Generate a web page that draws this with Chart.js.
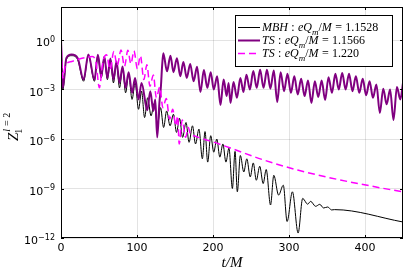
<!DOCTYPE html>
<html>
<head>
<meta charset="utf-8">
<script src="https://cdn.jsdelivr.net/npm/chart.js@4.4.0/dist/chart.umd.min.js"></script>
<style>
  html, body { margin: 0; padding: 0; background: #fff; }
  canvas { display: block; }
</style>
</head>
<body>
<canvas id="chart" width="411" height="274"></canvas>
<script>
// values: t/M and log10 of |Z|
const mbhT = [0, 2.5, 7, 14, 22, 29.7, 36, 44, 48.5, 53, 57, 61, 65, 69, 73, 77, 81, 85, 89, 93.5,
  97.5, 102, 106, 110, 114, 118.5, 122.5, 127, 131, 135, 139, 143.5, 148, 152, 156, 160, 164.5, 168.5,
  173, 177, 181.5, 186, 189.5, 193, 197, 201, 205, 209, 213, 217, 221, 225.5, 229, 232, 236, 240.5,
  244.5, 249, 253, 257, 261.5, 266, 270, 275.7, 280, 286.3, 292.5, 297.5, 304.5, 312, 318, 324.5,
  328.5, 335, 340.5, 345.5, 351, 356, 360, 450]
const mbhLogZ = [0, -3.0, -1.2, -0.95, -1.2, -2.5, -0.93, -2.5, -0.95, -2.3, -1.05, -2.4, -1.2, -2.6,
  -1.4, -2.9, -1.7, -3.2, -2.1, -3.6, -2.6, -4.2, -3.1, -4.7, -3.5, -4.6, -3.85, -5.1, -4.1, -5.3,
  -4.3, -5.2, -4.5, -5.6, -4.75, -5.9, -5.0, -6.2, -5.2, -6.3, -5.4, -7.2, -5.55, -7.4, -5.8, -6.8,
  -6.0, -7.1, -6.3, -7.4, -6.55, -9.0, -6.75, -9.2, -7.0, -8.0, -7.2, -8.3, -7.45, -8.5, -7.65, -8.7,
  -7.85, -10.0, -8.2, -9.4, -8.8, -11.0, -9.2, -11.7, -9.6, -9.95, -9.78, -10.08, -9.96, -10.18,
  -10.12, -10.3, -10.28, -11.03]

const ts1T = [0, 2.5, 7, 14, 22, 29.7, 36, 44, 48.5, 53, 57, 61, 65, 69, 73, 77, 81, 85, 89, 93.5,
  97.5, 102, 106, 113.5, 117.5, 121.5, 124, 126.6, 129.5, 131.5, 133, 134.6, 139.5, 144, 148, 152.5,
  157, 161, 165.5, 170, 174.5, 179, 183.5, 188, 192.5, 197, 201, 205.5, 209.8, 214, 218, 220.5, 223,
  227, 231.5, 236, 240, 244, 248.5, 253, 257.5, 262, 266.5, 271, 275.5, 280, 284.5, 289, 293.5, 298,
  302.5, 307, 311.5, 316, 320.5, 325, 329.5, 334, 338.5, 343, 347.5, 352, 356.5, 361, 365.5, 370,
  374.5, 379, 383.5, 388, 392.5, 397, 401.5, 406, 410.5, 415, 419.5, 424, 428.5, 433, 437.5, 442,
  446.5, 450]
const ts1LogZ = [0, -2.9, -1.1, -0.88, -1.1, -2.4, -0.88, -2.4, -0.9, -2.2, -1.0, -2.3, -1.12, -2.4,
  -1.3, -2.6, -1.6, -2.9, -1.95, -3.2, -2.3, -3.6, -2.6, -4.25, -3.1, -4.3, -3.6, -5.9, -3.8, -2.8,
  -1.6, -0.8, -1.9, -0.95, -1.95, -1.1, -2.2, -1.33, -2.3, -1.45, -2.5, -1.62, -3.15, -1.82, -2.9,
  -1.95, -3.0, -2.2, -3.94, -2.4, -3.4, -2.6, -3.82, -2.55, -3.5, -2.3, -3.15, -2.1, -3.0, -1.88,
  -2.9, -1.8, -2.9, -1.8, -2.95, -1.85, -3.76, -1.95, -3.1, -2.05, -3.2, -2.2, -3.3, -2.35, -3.4,
  -2.45, -3.82, -2.5, -3.45, -2.45, -3.64, -2.25, -3.2, -2.05, -3.0, -2.0, -3.0, -2.05, -3.1, -2.2,
  -3.2, -2.35, -3.35, -2.5, -3.5, -2.7, -4.42, -2.95, -3.9, -3.0, -4.85, -2.85, -3.6, -2.6]

const ts2T = [0, 2.2, 6, 14, 24, 33, 41, 46, 50.5, 55, 60, 64.5, 69.5, 74, 79, 83.5, 88, 92, 96,
  100.5, 104.5, 109, 113, 117, 121.5, 125.5, 130, 134, 138.5, 143, 147, 151, 153.5, 155.5, 159.5,
  164, 167.5, 170.2, 176, 183.5, 196.6, 223, 266.5, 311.3, 354.9, 407.7, 450]
const ts2LogZ = [0.05, -2.3, -1.5, -1.3, -1.15, -1.05, -1.0, -1.35, -2.9, -1.35, -0.9, -1.8, -0.7,
  -1.55, -0.6, -1.6, -0.62, -1.45, -0.66, -1.75, -0.95, -2.4, -1.5, -2.8, -2.12, -3.5, -2.85, -4.1,
  -3.55, -4.8, -4.2, -5.2, -4.6, -6.3, -4.85, -5.9, -5.3, -5.7, -5.82, -5.95, -6.12, -6.55, -7.27,
  -7.88, -8.36, -8.85, -9.21]

const seriesLabels = ['MBH : eQ_m/M = 1.1528', 'TS : eQ_m/M = 1.1566', 'TS : eQ_m/M = 1.220']
const xTicks = [0, 100, 200, 300, 400]
const yTickExps = [-12, -9, -6, -3, 0]

function toPoints(ts, es) {
  return ts.map((t, i) => ({ x: t, y: Math.pow(10, es[i]) }))
}

// letters italic, the rest upright, "_" puts next char as subscript
function drawMath(ctx, str, x, y, size) {
  let i = 0
  while (i < str.length) {
    let ch = str[i]
    let sub = false
    if (ch === '_') { sub = true; ch = str[++i] }
    if (ch === ' ') { x += size * 0.28; i++; continue }
    const italic = /[A-Za-z]/.test(ch)
    const fs = sub ? Math.round(size * 0.72) : size
    ctx.font = (italic ? 'italic ' : '') + fs + 'px "Liberation Serif"'
    ctx.fillText(ch, x, sub ? y + size * 0.3 : y)
    x += ctx.measureText(ch).width
    i++
  }
  return x
}

const decorPlugin = {
  id: 'decor',
  afterDraw(chart) {
    const ctx = chart.ctx
    const a = chart.chartArea
    const xs = chart.scales.x
    const ys = chart.scales.y
    ctx.save()
    // frame and inner ticks
    ctx.strokeStyle = '#000'
    ctx.lineWidth = 1
    ctx.strokeRect(Math.round(a.left) + 0.5, Math.round(a.top) + 0.5, Math.round(a.right - a.left) - 1, Math.round(a.bottom - a.top) - 1)
    ctx.beginPath()
    xTicks.forEach(v => {
      const px = Math.round(xs.getPixelForValue(v)) + 0.5
      ctx.moveTo(px, a.bottom); ctx.lineTo(px, a.bottom - 3)
      ctx.moveTo(px, a.top); ctx.lineTo(px, a.top + 3)
    })
    yTickExps.forEach(e => {
      const py = Math.round(ys.getPixelForValue(Math.pow(10, e))) + 0.5
      ctx.moveTo(a.left, py); ctx.lineTo(a.left + 3, py)
      ctx.moveTo(a.right, py); ctx.lineTo(a.right - 3, py)
    })
    ctx.stroke()

    // y tick labels: 10 with raised exponent
    ctx.fillStyle = '#000'
    ctx.textAlign = 'right'
    ctx.textBaseline = 'alphabetic'
    yTickExps.forEach(e => {
      const py = ys.getPixelForValue(Math.pow(10, e))
      const ex = e === 0 ? '0' : '\u2212' + String(-e)
      ctx.font = '8px "DejaVu Sans"'
      const ew = ctx.measureText(ex).width
      ctx.fillText(ex, a.left - 6, py + 1.5)
      ctx.font = '11px "DejaVu Sans"'
      ctx.fillText('10', a.left - 6 - ew, py + 6)
    })

    // axis titles
    ctx.textAlign = 'left'
    ctx.font = 'italic 15px "Liberation Serif"'
    const tw = ctx.measureText('t/M').width
    ctx.fillText('t/M', (a.left + a.right) / 2 - tw / 2, 267)

    ctx.save()
    ctx.translate(18, 141)
    ctx.rotate(-Math.PI / 2)
    ctx.font = 'italic 15px "Liberation Serif"'
    ctx.fillText('Z', 0, 0)
    const zw = ctx.measureText('Z').width
    ctx.font = '10px "Liberation Serif"'
    ctx.fillText('1', zw - 1, 4)
    drawMath(ctx, 'l = 2', zw + 1, -8, 10)
    ctx.restore()

    // legend
    const bx = 235, by = 15, bw = 157, bh = 51
    ctx.fillStyle = '#fff'
    ctx.fillRect(bx, by, bw, bh)
    ctx.strokeStyle = '#000'
    ctx.strokeRect(bx + 0.5, by + 0.5, bw, bh)
    chart.data.datasets.forEach((ds, i) => {
      const ly = by + 12 + i * 13
      ctx.strokeStyle = ds.borderColor
      ctx.lineWidth = ds.borderWidth
      ctx.setLineDash(ds.borderDash || [])
      ctx.beginPath()
      ctx.moveTo(bx + 3, ly + 0.5)
      ctx.lineTo(bx + 25, ly + 0.5)
      ctx.stroke()
      ctx.setLineDash([])
      ctx.fillStyle = '#000'
      drawMath(ctx, ds.label, bx + 27, ly + 4, 12)
    })
    ctx.restore()
  }
}

const ctx = document.getElementById('chart')
const chart = new Chart(ctx, {
  type: 'line',
  data: {
    datasets: [
      {
        label: seriesLabels[0],
        data: toPoints(mbhT, mbhLogZ),
        borderColor: '#000000',
        borderWidth: 1,
        order: 3
      },
      {
        label: seriesLabels[1],
        data: toPoints(ts1T, ts1LogZ),
        borderColor: '#800080',
        borderWidth: 2,
        order: 2
      },
      {
        label: seriesLabels[2],
        data: toPoints(ts2T, ts2LogZ),
        borderColor: '#ff00ff',
        borderWidth: 1.5,
        borderDash: [7, 4],
        order: 1
      }
    ]
  },
  options: {
    responsive: false,
    animation: false,
    layout: { padding: { top: 7, right: 8, left: 0, bottom: 0 } },
    elements: {
      point: { radius: 0 },
      line: { cubicInterpolationMode: 'monotone', fill: false }
    },
    plugins: {
      legend: { display: false },
      tooltip: { enabled: false }
    },
    scales: {
      x: {
        type: 'linear',
        min: 0,
        max: 450,
        afterBuildTicks: s => { s.ticks = xTicks.map(v => ({ value: v })) },
        afterFit: s => { s.height = 36 },
        grid: { color: 'rgba(0,0,0,0.11)', drawTicks: false },
        border: { display: false },
        ticks: { color: '#000', padding: 4, maxRotation: 0, font: { family: 'DejaVu Sans', size: 11 } }
      },
      y: {
        type: 'logarithmic',
        min: 1e-12,
        max: 1e2,
        afterBuildTicks: s => { s.ticks = yTickExps.map(e => ({ value: Math.pow(10, e) })) },
        afterFit: s => { s.width = 61 },
        grid: { color: 'rgba(0,0,0,0.11)', drawTicks: false },
        border: { display: false },
        ticks: { display: false }
      }
    }
  },
  plugins: [decorPlugin]
})
</script>
</body>
</html>
